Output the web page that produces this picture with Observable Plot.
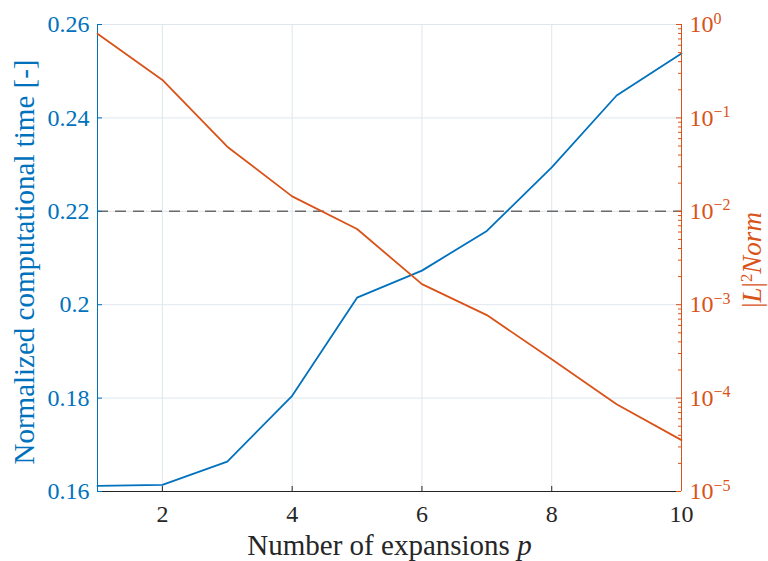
<!DOCTYPE html>
<html>
<head>
<meta charset="utf-8">
<script src="https://cdn.jsdelivr.net/npm/d3@7"></script>
<script src="https://cdn.jsdelivr.net/npm/@observablehq/plot@0.6"></script>
<style>
  body { margin: 0; background: #fff; font-family: "Liberation Serif", "DejaVu Serif", serif; }
  #chart text { font-family: "Liberation Serif", "DejaVu Serif", serif; }
</style>
</head>
<body>
<div id="chart"></div>
<script>
// Number of expansions p
const expansions = [1, 2, 3, 4, 5, 6, 7, 8, 9, 10];
// Normalized computational time (left axis, linear)
const normalizedTime = [0.1612, 0.1614, 0.1664, 0.1805, 0.2015, 0.2073, 0.2158, 0.2294, 0.2448, 0.2538];
// |L|^2 norm (right axis, logarithmic)
const l2Norm = [0.795, 0.255, 0.0492, 0.01445, 0.00646, 0.00166, 0.000774, 0.000261, 0.000086, 0.0000355];
// Tolerance drawn as a dashed reference line
const threshold = 0.22;

// Tick values
const xTicks = [2, 4, 6, 8, 10];
const leftTicks = [0.16, 0.18, 0.2, 0.22, 0.24, 0.26];
const rightExponents = [-5, -4, -3, -2, -1, 0];

const blue = "#0072BD";
const orange = "#D95319";
const dark = "#262626";
const gridColor = "#dfe7ee";
const serifFamily = "Liberation Serif, DejaVu Serif, serif";

const W = 768, H = 561;
const margins = { marginLeft: 97, marginRight: 87, marginTop: 24, marginBottom: 70 };
const frameW = W - margins.marginLeft - margins.marginRight;
const frameH = H - margins.marginTop - margins.marginBottom;

const timeData = expansions.map((p, i) => ({ p, v: normalizedTime[i] }));
const normData = expansions.map((p, i) => ({ p, v: l2Norm[i] }));
const rightMajor = rightExponents.map(e => Math.pow(10, e));
const rightMinor = rightExponents.slice(0, -1).flatMap(e => [2, 3, 4, 5, 6, 7, 8, 9].map(k => k * Math.pow(10, e)));
const supMinus = e => (e < 0 ? "\u2212" + (-e) : String(e));

const yLabel = "Normalized computational time [-]";
const xLabel = "Number of expansions p";
const y2Label = "|L|2Norm";

// Left (linear) axis, x axis, grid, reference line and the computational time series
const leftPlot = Plot.plot({
  width: W, height: H, ...margins,
  style: { fontFamily: serifFamily },
  x: { domain: [1, 10], axis: null },
  y: { domain: [0.16, 0.26], axis: null },
  marks: [
    Plot.ruleX(xTicks.filter(d => d < 10), { stroke: gridColor, strokeWidth: 1 }),
    Plot.ruleY(leftTicks.filter(d => d > 0.16), { stroke: gridColor, strokeWidth: 1 }),
    Plot.ruleY([threshold], { stroke: "#6a6a6a", strokeWidth: 1.6, strokeDasharray: "11,7" }),
    Plot.line(timeData, { x: "p", y: "v", stroke: blue, strokeWidth: 1.8 }),
    // spines
    Plot.ruleX([1], { stroke: blue, strokeWidth: 1 }),
    Plot.ruleY([0.16], { stroke: dark, strokeWidth: 1 }),
    // inward ticks
    Plot.tickX(xTicks, { x: d => d, stroke: dark, insetTop: frameH - 5 }),
    Plot.tickY(leftTicks, { y: d => d, stroke: blue, insetRight: frameW - 5 }),
    // tick labels
    Plot.text(xTicks, { x: d => d, text: d => String(d), frameAnchor: "bottom", textAnchor: "middle", lineAnchor: "bottom", dy: 30, fill: dark, fontSize: 24, fontFamily: serifFamily }),
    Plot.text(leftTicks, { y: d => d, text: d => String(+d.toFixed(2)), frameAnchor: "left", textAnchor: "end", dx: -8, fill: blue, fontSize: 24, fontFamily: serifFamily }),
    // axis labels
    Plot.text([xLabel], { text: d => d, frameAnchor: "bottom", textAnchor: "middle", lineAnchor: "bottom", dy: 63, fill: dark, fontSize: 29, fontFamily: serifFamily }),
    Plot.text([yLabel], { text: d => d, frameAnchor: "left", textAnchor: "middle", rotate: -90, dx: -73, dy: 4, fill: blue, fontSize: 29, fontFamily: serifFamily })
  ]
});

// Right (logarithmic) axis and the norm series
const rightPlot = Plot.plot({
  width: W, height: H, ...margins,
  style: { fontFamily: serifFamily },
  x: { domain: [1, 10], axis: null },
  y: { type: "log", domain: [1e-5, 1], axis: null },
  marks: [
    Plot.line(normData, { x: "p", y: "v", stroke: orange, strokeWidth: 1.8 }),
    Plot.ruleX([10], { stroke: orange, strokeWidth: 1 }),
    Plot.tickY(rightMajor, { y: d => d, stroke: orange, insetLeft: frameW - 5 }),
    Plot.tickY(rightMinor, { y: d => d, stroke: orange, insetLeft: frameW - 3 }),
    Plot.text(rightMajor, { y: d => d, text: () => "10", frameAnchor: "right", textAnchor: "start", dx: 8, fill: orange, fontSize: 24, fontFamily: serifFamily }),
    Plot.text(rightExponents, { y: d => Math.pow(10, d), text: supMinus, frameAnchor: "right", textAnchor: "start", lineAnchor: "bottom", dx: 32, dy: -1, fill: orange, fontSize: 16, fontFamily: serifFamily }),
    Plot.text([y2Label], { text: d => d, frameAnchor: "right", textAnchor: "middle", rotate: -90, dx: 71, dy: 2, fill: orange, fontSize: 27, fontFamily: serifFamily })
  ]
});

// Rebuild a few labels with italic / superscript parts
function richText(svg, plain, parts) {
  d3.select(svg).selectAll("text")
    .filter(function () { return this.textContent === plain; })
    .each(function () {
      const t = d3.select(this);
      t.text(null);
      for (const part of parts) {
        const s = t.append("tspan").text(part.text);
        if (part.italic) s.attr("font-style", "italic");
        if (part.sup) s.attr("baseline-shift", "super").attr("font-size", "0.62em");
      }
    });
}
richText(leftPlot, xLabel, [{ text: "Number of expansions " }, { text: "p", italic: true }]);
richText(rightPlot, y2Label, [
  { text: "|" }, { text: "L", italic: true }, { text: "|" },
  { text: "2", sup: true }, { text: "Norm", italic: true }
]);

// Merge the log-axis layer into the linear-axis SVG so both share one drawing
const overlay = d3.select(leftPlot).append("g").attr("aria-label", "right axis layer").node();
for (const child of Array.from(rightPlot.childNodes)) {
  if (child.nodeName.toLowerCase() !== "style") overlay.appendChild(child);
}

// Serif face for the whole drawing
d3.select(leftPlot).attr("font-family", serifFamily);
d3.select(leftPlot).selectAll("text").attr("font-family", serifFamily);

document.getElementById("chart").appendChild(leftPlot);
</script>
</body>
</html>
